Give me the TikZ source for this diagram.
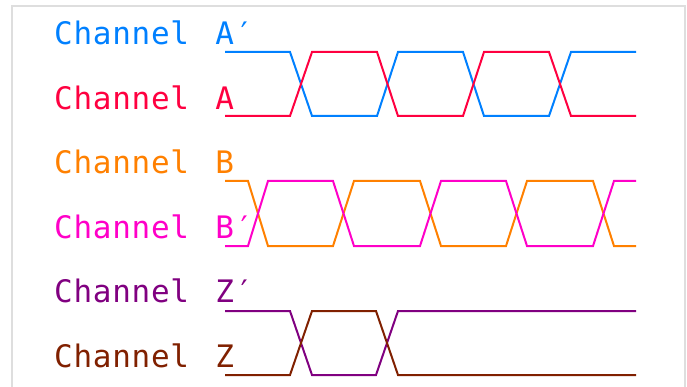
\documentclass[tikz,border=0pt]{standalone}
\usepackage{fontspec}
\setmonofont[LetterSpace=2.3]{DejaVu Sans Mono}
\usepackage{tikz}

\definecolor{chAp}{RGB}{0,128,255}
\definecolor{chA}{RGB}{255,0,64}
\definecolor{chB}{RGB}{255,128,0}
\definecolor{chBp}{RGB}{255,0,200}
\definecolor{chZp}{RGB}{128,0,128}
\definecolor{chZ}{RGB}{128,32,0}
\definecolor{framegray}{RGB}{222,222,222}

\newcommand{\chname}[1]{Channel\hspace{7pt} #1}

\tikzset{
  chlabel/.style={anchor=base west, inner sep=0pt, font=\ttfamily\fontsize{31}{36}\selectfont},
  wave/.style={line width=2pt, line join=miter}
}

\begin{document}
\begin{tikzpicture}[x=1pt,y=-1pt]
\useasboundingbox (0,0) rectangle (687,387);
\draw[framegray, line width=2pt] (12,387) -- (12,6) -- (685,6) -- (685,387);

\node[chlabel, text=chAp](lAp) at (54,45) {\chname{A′}};
\node[chlabel, text=chA](lA) at (54,110) {\chname{A}};
\node[chlabel, text=chB](lB) at (54,174) {\chname{B}};
\node[chlabel, text=chBp](lBp) at (54,238) {\chname{B′}};
\node[chlabel, text=chZp](lZp) at (54,302) {\chname{Z′}};
\node[chlabel, text=chZ](lZ) at (54,367) {\chname{Z}};

% channel A and A'
\draw[wave, chAp] (225,52) -- (290,52) -- (312,116) -- (377,116) -- (398,52) -- (463,52) -- (484,116) -- (549,116) -- (571,52) -- (636,52);
\draw[wave, chA] (225,116) -- (290,116) -- (312,52) -- (377,52) -- (398,116) -- (463,116) -- (484,52) -- (549,52) -- (571,116) -- (636,116);

% channel B and B'
\draw[wave, chB] (225,181) -- (248,181) -- (268,246) -- (333,246) -- (354,181) -- (420,181) -- (441,246) -- (506,246) -- (527,181) -- (593,181) -- (614,246) -- (636,246);
\draw[wave, chBp] (225,246) -- (248,246) -- (268,181) -- (333,181) -- (354,246) -- (420,246) -- (441,181) -- (506,181) -- (527,246) -- (593,246) -- (614,181) -- (636,181);

% channel Z and Z'
\draw[wave, chZp] (225,311) -- (290,311) -- (312,375) -- (376,375) -- (398,311) -- (636,311);
\draw[wave, chZ] (225,375) -- (290,375) -- (312,311) -- (376,311) -- (398,375) -- (636,375);
\end{tikzpicture}
\end{document}
